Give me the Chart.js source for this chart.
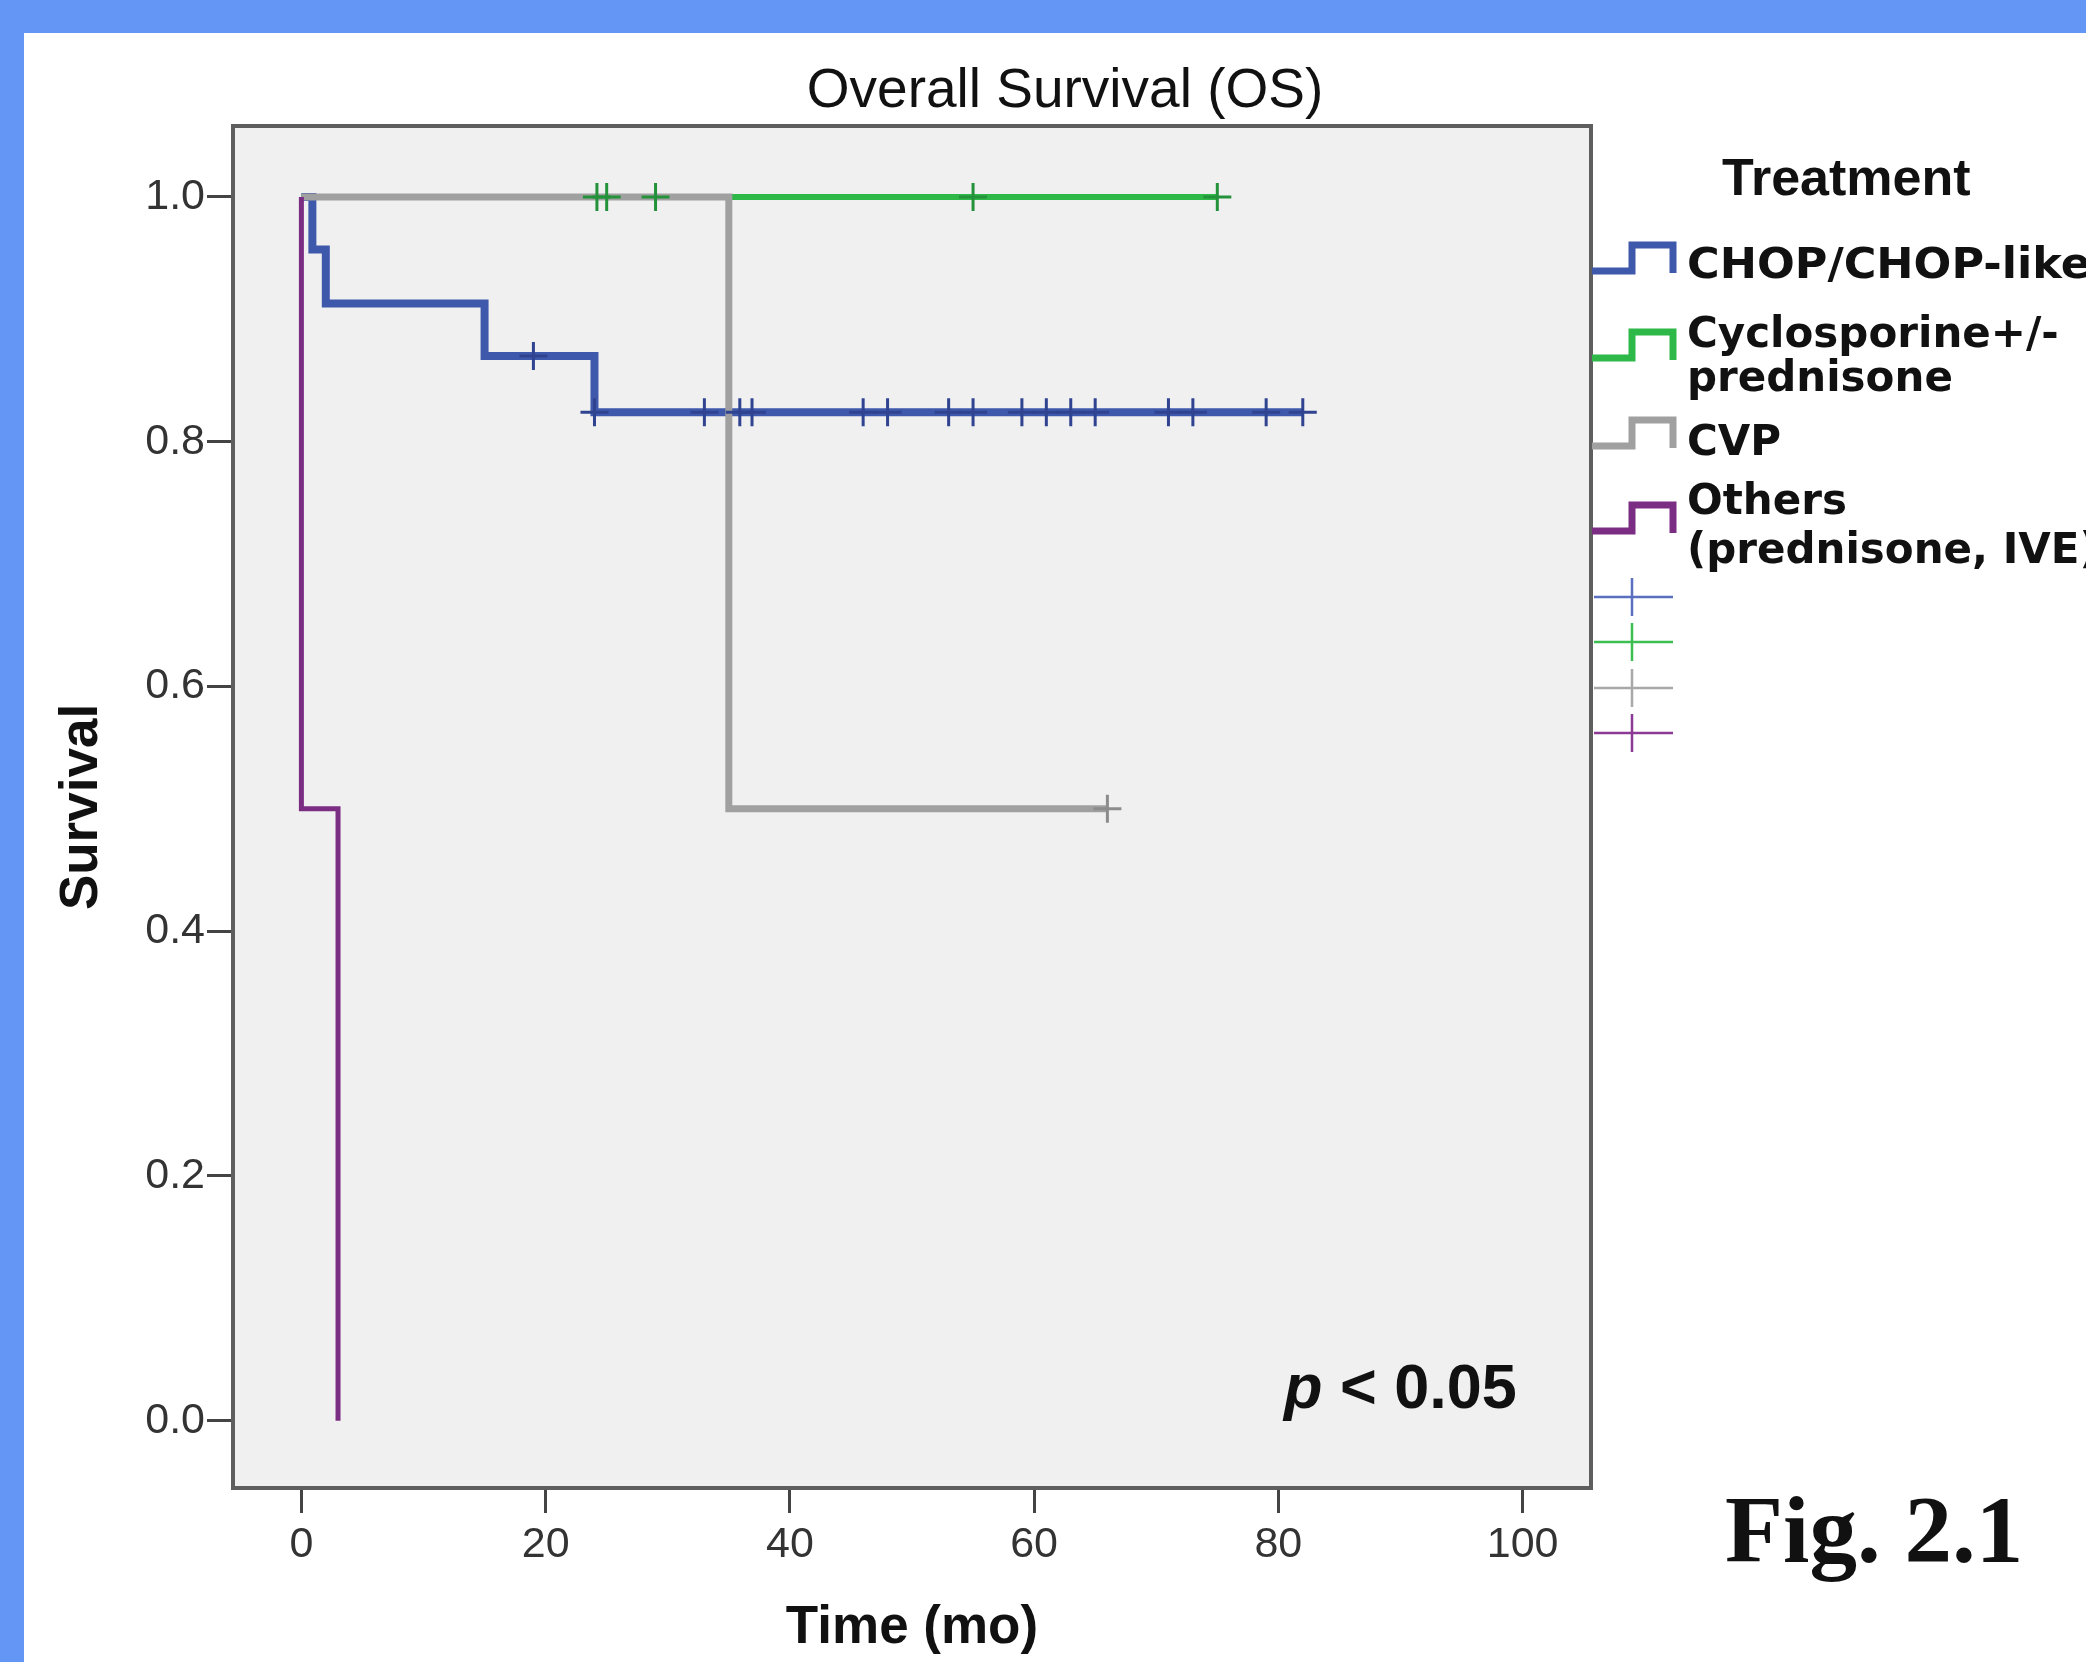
<!DOCTYPE html>
<html>
<head>
<meta charset="utf-8">
<script src="https://cdn.jsdelivr.net/npm/chart.js@4.4.1/dist/chart.umd.min.js"></script>
<style>
  html, body { margin: 0; padding: 0; background: #ffffff; width: 2086px; height: 1662px; overflow: hidden; }
  #topbar { position: absolute; left: 0; top: 0; width: 2086px; height: 33px; background: #6496F5; }
  #leftbar { position: absolute; left: 0; top: 0; width: 24px; height: 1662px; background: #6496F5; }
  canvas { position: absolute; left: 0; top: 0; }
</style>
</head>
<body>
<div id="topbar"></div>
<div id="leftbar"></div>
<canvas id="c" width="2086" height="1662" style="width:2086px;height:1662px"></canvas>
<script>
// ---------------- DATA ----------------
const xTickValues = [0, 20, 40, 60, 80, 100];
const xTickLabels = ['0', '20', '40', '60', '80', '100'];
const yTickValues = [0, 0.2, 0.4, 0.6, 0.8, 1.0];
const yTickLabels = ['0.0', '0.2', '0.4', '0.6', '0.8', '1.0'];

const seriesNames = ['CHOP/CHOP-like', 'Cyclosporine+/- prednisone', 'CVP', 'Others (prednisone, IVE)'];
const legendLines = [['CHOP/CHOP-like'], ['Cyclosporine+/-', 'prednisone'], ['CVP'], ['Others', '(prednisone, IVE)']];

// Kaplan-Meier step points (time in months, survival after event)
const chopTimes = [0, 0.9, 2.0, 15.0, 24.0, 82.0];
const chopSurv  = [1.0, 0.957, 0.913, 0.870, 0.824, 0.824];
const chopCensor = [19, 24, 33, 35.9, 36.9, 46, 48, 53, 55, 59, 61, 63, 65, 71, 73, 79, 82];

const cycloTimes = [0, 75];
const cycloSurv  = [1.0, 1.0];
const cycloCensor = [24.2, 25, 29, 55, 75];

const cvpTimes = [0, 35, 66];
const cvpSurv  = [1.0, 0.5, 0.5];
const cvpCensor = [66];

const othersTimes = [0, 0, 3.0];
const othersSurv  = [1.0, 0.5, 0.0];
const othersCensor = [];

const pText = 'p';
const pRest = ' < 0.05';
const figText = 'Fig. 2.1';
const chartTitle = 'Overall Survival (OS)';
const legendTitle = 'Treatment';
const xTitle = 'Time (mo)';
const yTitle = 'Survival';

// ---------------- STYLE ----------------
const lineColors   = ['#3E58AC', '#2EB848', '#A0A0A0', '#7B2C83'];
const censorColors = ['#2F4390', '#24923A', '#8C8C8C', '#6A2270'];
const legendCensorColors = ['#5A6FC0', '#3CBF50', '#A8A8A8', '#8B3A93'];
const lineWidths = [8, 6, 7, 5];

function toPoints(ts, ss) { return ts.map((t, i) => ({ x: t, y: ss[i] })); }
function survAt(ts, ss, t) {
  let v = ss[0];
  for (let i = 0; i < ts.length; i++) if (ts[i] <= t) v = ss[i];
  return v;
}
function censorPoints(cs, ts, ss) { return cs.map(t => ({ x: t, y: survAt(ts, ss, t) })); }

const allTimes = [chopTimes, cycloTimes, cvpTimes, othersTimes];
const allSurv = [chopSurv, cycloSurv, cvpSurv, othersSurv];
const allCensor = [chopCensor, cycloCensor, cvpCensor, othersCensor];

const datasets = [];
for (let i = 0; i < 4; i++) {
  datasets.push({
    type: 'line',
    label: seriesNames[i],
    data: toPoints(allTimes[i], allSurv[i]),
    stepped: 'before',
    borderColor: lineColors[i],
    borderWidth: lineWidths[i],
    pointRadius: 0,
    fill: false,
    tension: 0,
    borderCapStyle: 'butt',
    borderJoinStyle: 'miter',
    order: 4 - i + 1
  });
}
for (let i = 0; i < 4; i++) {
  datasets.push({
    type: 'scatter',
    label: seriesNames[i] + ' censored',
    data: censorPoints(allCensor[i], allTimes[i], allSurv[i]),
    pointStyle: 'cross',
    pointRadius: 14,
    pointBorderWidth: 3,
    borderColor: censorColors[i],
    pointBorderColor: censorColors[i],
    backgroundColor: censorColors[i],
    showLine: false,
    order: 0
  });
}

const decorPlugin = {
  id: 'decor',
  beforeDraw(chart) {
    const { ctx, chartArea: a } = chart;
    ctx.save();
    ctx.fillStyle = '#F0F0F0';
    ctx.fillRect(a.left, a.top, a.right - a.left, a.bottom - a.top);
    ctx.restore();
  },
  afterDatasetsDraw(chart) {
    const { ctx, chartArea: a } = chart;
    ctx.save();
    ctx.strokeStyle = '#5E5E5E';
    ctx.lineWidth = 4;
    ctx.strokeRect(a.left, a.top, a.right - a.left, a.bottom - a.top);
    ctx.restore();
  },
  afterDraw(chart) {
    const ctx = chart.ctx;
    ctx.save();
    ctx.fillStyle = '#111';
    ctx.textBaseline = 'alphabetic';
    // Chart title
    ctx.font = '55px "Liberation Sans", Arial, sans-serif';
    ctx.textAlign = 'center';
    ctx.fillText(chartTitle, 1065, 107);
    // Legend title
    ctx.textAlign = 'left';
    ctx.font = 'bold 52px "Liberation Sans", Arial, sans-serif';
    ctx.fillText(legendTitle, 1722, 195);

    // Legend step icons + labels
    const iconTops = [245, 332, 420, 505];
    const baselines = [[278], [347, 391], [455], [514, 563]];
    ctx.font = 'bold 42px "DejaVu Sans", Verdana, sans-serif';
    for (let i = 0; i < 4; i++) {
      const top = iconTops[i], low = top + 26;
      ctx.strokeStyle = lineColors[i];
      ctx.lineWidth = 7;
      ctx.lineJoin = 'miter';
      ctx.lineCap = 'butt';
      ctx.beginPath();
      ctx.moveTo(1592, low);
      ctx.lineTo(1632, low);
      ctx.lineTo(1632, top);
      ctx.lineTo(1673, top);
      ctx.lineTo(1673, low + 2);
      ctx.stroke();
      ctx.fillStyle = '#111';
      legendLines[i].forEach((txt, j) => {
        if (txt === 'Cyclosporine+/-') {
          ctx.fillText(txt, 1687, baselines[i][j], 373);
        } else if (txt === 'CHOP/CHOP-like') {
          ctx.save();
          ctx.translate(1687, baselines[i][j]);
          ctx.scale(1.06, 1);
          ctx.fillText(txt, 0, 0);
          ctx.restore();
        } else {
          ctx.fillText(txt, 1687, baselines[i][j]);
        }
      });
    }
    // Legend censor marks
    const censorY = [597, 642, 688, 733];
    for (let i = 0; i < 4; i++) {
      ctx.strokeStyle = legendCensorColors[i];
      ctx.lineWidth = 2.5;
      ctx.beginPath();
      ctx.moveTo(1594, censorY[i]);
      ctx.lineTo(1673, censorY[i]);
      ctx.moveTo(1632, censorY[i] - 19);
      ctx.lineTo(1632, censorY[i] + 19);
      ctx.stroke();
    }

    // p-value
    ctx.fillStyle = '#111';
    ctx.font = 'italic bold 63px "Liberation Sans", Arial, sans-serif';
    ctx.fillText(pText, 1284, 1408);
    const pw = ctx.measureText(pText).width;
    ctx.font = 'bold 63px "Liberation Sans", Arial, sans-serif';
    ctx.fillText(pRest, 1284 + pw, 1408);

    // Figure label
    ctx.font = 'bold 95px "Liberation Serif", "Times New Roman", serif';
    ctx.fillText(figText, 1725, 1562);
    ctx.restore();
  }
};

const tickFont = { family: '"Liberation Sans", Arial, sans-serif', size: 43 };

new Chart(document.getElementById('c'), {
  type: 'line',
  data: { datasets },
  options: {
    responsive: false,
    animation: false,
    devicePixelRatio: 1,
    layout: { padding: { left: 0, top: 126, right: 495, bottom: 0 } },
    plugins: { legend: { display: false }, tooltip: { enabled: false }, title: { display: false } },
    scales: {
      x: {
        type: 'linear',
        position: 'bottom',
        min: -5.6,
        max: 105.6,
        afterFit(scale) { scale.height = 174; },
        afterBuildTicks(scale) { scale.ticks = xTickValues.map(v => ({ value: v })); },
        ticks: {
          callback: (v, i) => xTickLabels[i],
          font: tickFont,
          color: '#333',
          padding: 6,
          maxRotation: 0,
          autoSkip: false
        },
        grid: { drawOnChartArea: false, drawTicks: true, tickLength: 25, color: '#444', tickColor: '#444', tickWidth: 3, lineWidth: 3 },
        border: { display: false },
        title: {
          display: true,
          text: xTitle,
          color: '#111',
          font: { family: '"Liberation Sans", Arial, sans-serif', size: 53, weight: 'bold' },
          padding: { top: 0, bottom: 2 }
        }
      },
      y: {
        type: 'linear',
        min: -0.055,
        max: 1.058,
        afterFit(scale) { scale.width = 233; },
        afterBuildTicks(scale) { scale.ticks = yTickValues.map(v => ({ value: v })); },
        ticks: {
          callback: (v, i) => yTickLabels[i],
          font: tickFont,
          color: '#333',
          padding: 2,
          autoSkip: false
        },
        grid: { drawOnChartArea: false, drawTicks: true, tickLength: 26, color: '#444', tickColor: '#444', tickWidth: 3, lineWidth: 3 },
        border: { display: false },
        title: {
          display: true,
          text: yTitle,
          color: '#111',
          font: { family: '"Liberation Sans", Arial, sans-serif', size: 53, weight: 'bold' },
          padding: { top: 51, bottom: 0 }
        }
      }
    }
  },
  plugins: [decorPlugin]
});
</script>
</body>
</html>
